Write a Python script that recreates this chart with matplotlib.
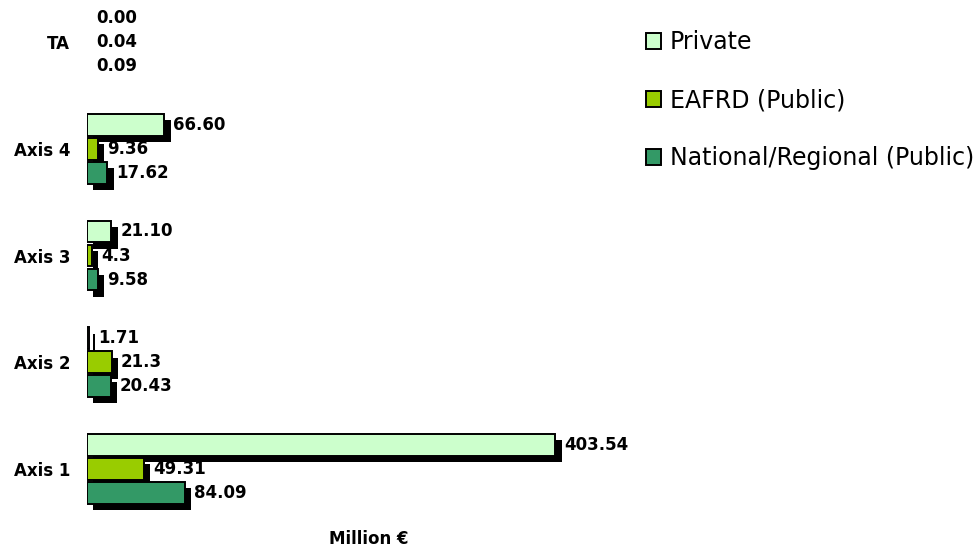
import matplotlib

matplotlib.use("Agg")
import matplotlib.patheffects as pe
import matplotlib.pyplot as plt
import numpy as np
from matplotlib.patches import Patch

# bottom-to-top order, as barh draws it
categories = ["Axis 1", "Axis 2", "Axis 3", "Axis 4", "TA"]
series = ["Private", "EAFRD (Public)", "National/Regional (Public)"]
private = [403.54, 1.71, 21.10, 66.60, 0.00]
eafrd = [49.31, 21.3, 4.3, 9.36, 0.04]
national = [84.09, 20.43, 9.58, 17.62, 0.09]
private_lbl = ["403.54", "1.71", "21.10", "66.60", "0.00"]
eafrd_lbl = ["49.31", "21.3", "4.3", "9.36", "0.04"]
national_lbl = ["84.09", "20.43", "9.58", "17.62", "0.09"]
colors = ["#CCFFCC", "#99CC00", "#339966"]

fig = plt.figure(figsize=(9.77, 5.48), dpi=100)
ax = fig.add_axes([87 / 977, 28 / 548, 564 / 977, 515 / 548])

y = np.arange(len(categories))
pitch, h = 0.225, 0.205
shadow = [pe.SimplePatchShadow(offset=(4.5, -4.5), shadow_rgbFace="black", alpha=1.0), pe.Normal()]

rows = [(private, private_lbl, pitch), (eafrd, eafrd_lbl, 0.0), (national, national_lbl, -pitch)]
for (vals, lbls, dy), c in zip(rows, colors):
    bars = ax.barh(y + dy, vals, height=h, color=c, edgecolor="black", linewidth=1.4)
    for b, v in zip(bars, vals):
        b.set_path_effects(shadow)
        if v < 0.5:  # too thin to show up at this scale
            b.set_visible(False)
    for yi, v, t in zip(y + dy, vals, lbls):
        ax.annotate(t, (v, yi), xytext=(6.5, 0), textcoords="offset points",
                    va="center", ha="left", fontsize=12, fontweight="bold", zorder=0.9)

ax.set_xlim(0, 486)
ax.set_ylim(-0.478, 4.347)
ax.set_yticks(y)
ax.set_yticklabels(categories, fontsize=12, fontweight="bold")
ax.set_xticks([])
ax.tick_params(axis="y", length=0, pad=12)
for s in ax.spines.values():
    s.set_visible(False)
ax.set_xlabel("Million €", fontsize=12, fontweight="bold", labelpad=7)

handles = [Patch(facecolor=c, edgecolor="black", linewidth=1.4) for c in colors]
fig.legend(handles, series, loc="upper left", bbox_to_anchor=(646 / 977, 1 - 30 / 548),
           frameon=False, fontsize=17, handlelength=0.65, handleheight=0.65,
           handletextpad=0.35, labelspacing=1.45, borderpad=0, borderaxespad=0)

fig.savefig("out.png", dpi=100)
plt.close(fig)
